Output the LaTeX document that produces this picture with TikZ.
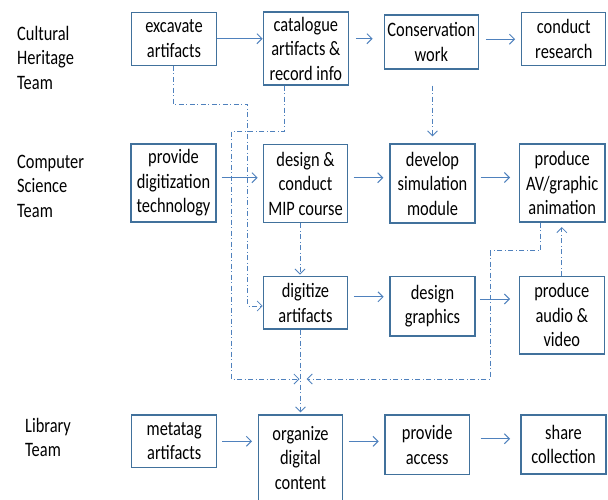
\documentclass[tikz,border=0pt]{standalone}
\usepackage{fontspec}
\setmainfont[FakeStretch=0.8]{Carlito}
\usetikzlibrary{arrows.meta,calc}

\definecolor{boxline}{HTML}{41719C}
\definecolor{flowline}{HTML}{4F81BD}

\tikzset{
  stage/.style={draw=boxline, line width=1.3pt, inner sep=0pt, align=center,
    text=black, font=\fontsize{20.5}{24.5}\selectfont},
  % anchored at the baseline of the last line
  team/.style={inner sep=0pt, align=left, anchor=base west, text=black,
    font=\fontsize{20.5}{24.5}\selectfont},
  flow/.style={draw=flowline, line width=1pt,
    -{Straight Barb[length=5pt,width=10pt]}},
  link/.style={draw=flowline, line width=0.8pt,
    dash pattern=on 5pt off 2.5pt on 1pt off 2.5pt,
    -{Straight Barb[length=5pt,width=10pt]}},
  linkplain/.style={draw=flowline, line width=0.8pt,
    dash pattern=on 5pt off 2.5pt on 1pt off 2.5pt}
}

\begin{document}
\begin{tikzpicture}[x=1pt,y=-1pt]
\useasboundingbox (0,0) rectangle (608,499);
\clip (0,0) rectangle (608,499);

% team labels
\node[team] (tch) at (17,89) {Cultural\\Heritage\\Team};
\node[team] (tcs) at (17,217.3) {Computer\\Science\\Team};
\node[team] (tlib) at (25,456.7) {Library\\Team};

% cultural heritage row
\node[stage, minimum width=85pt, minimum height=53pt] (exc) at (174,38.7) {excavate\\artifacts};
\node[stage, minimum width=85pt, minimum height=73pt] (cat) at (305.8,48.5) {catalogue\\artifacts \&\\record info};
\node[stage, minimum width=94pt, minimum height=54pt] (cons) at (431.3,42) {Conservation\\work};
\node[stage, minimum width=84pt, minimum height=53pt] (res) at (563.8,39.2) {conduct\\research};

% computer science rows
\node[stage, minimum width=85pt, minimum height=78pt] (tech) at (173.5,183) {provide\\digitization\\technology};
\node[stage, minimum width=84.4pt, minimum height=78.4pt] (mip) at (305.5,183.5) {design \&\\conduct\\MIP course};
\node[stage, minimum width=85pt, minimum height=79pt] (sim) at (432.5,183.5) {develop\\simulation\\module};
\node[stage, minimum width=85.7pt, minimum height=78pt] (av) at (562.2,183) {produce\\AV/graphic\\animation};
\node[stage, minimum width=84.4pt, minimum height=52.3pt] (digit) at (305.5,302.8) {digitize\\artifacts};
\node[stage, minimum width=85pt, minimum height=59.3pt] (graph) at (432.5,306.3) {design\\graphics};
\node[stage, minimum width=85pt, minimum height=77.3pt] (audio) at (561.8,315.3) {produce\\audio \&\\video};

% library row
\node[stage, minimum width=85pt, minimum height=52.7pt] (meta) at (174.2,441.3) {metatag\\artifacts};
\node[stage, minimum width=84.4pt, minimum height=86pt] (org) at (300.5,458) {organize\\digital\\content};
\node[stage, minimum width=84.3pt, minimum height=59.3pt] (acc) at (427.2,444.7) {provide\\access};
\node[stage, minimum width=85pt, minimum height=59pt] (share) at (563.5,444.5) {share\\collection};

% solid hand-offs within each team
\draw[flow] (exc.east) -- (exc.east -| cat.west);
\draw[flow, shorten <=7pt, shorten >=11pt] (cat.east |- exc.east) -- (cons.west |- exc.east);
\draw[flow, shorten <=7pt, shorten >=6pt] (cons.east |- res.west) -- (res.west);
\draw[flow, shorten <=5pt, shorten >=5pt] ([yshift=5.3pt]tech.east) -- ([yshift=5.3pt]tech.east -| mip.west);
\draw[flow, shorten <=5.3pt, shorten >=6pt] ([yshift=5.8pt]mip.east) -- ([yshift=5.8pt]mip.east -| sim.west);
\draw[flow, shorten <=5pt, shorten >=8.6pt] ([yshift=6pt]sim.east) -- ([yshift=6pt]sim.east -| av.west);
\draw[flow, shorten <=5.6pt, shorten >=5.7pt] ([yshift=6pt]digit.east) -- ([yshift=6pt]digit.east -| graph.west);
\draw[flow, shorten <=4.3pt, shorten >=8.6pt] ([yshift=7.3pt]graph.east) -- ([yshift=7.3pt]graph.east -| audio.west);
\draw[flow, shorten <=5pt, shorten >=5.6pt] (meta.east) -- (meta.east -| org.west);
\draw[flow, shorten <=5.6pt, shorten >=5.7pt] (org.east |- meta.east) -- (acc.west |- meta.east);
\draw[flow, shorten <=10.7pt, shorten >=10.3pt] ([yshift=6pt]acc.east) -- ([yshift=6pt]acc.east -| share.west);

% routing points for the dash-dot links
\coordinate (j1) at (247.7,104.3);
\coordinate (j2) at (231.7,131.5);
\coordinate (j3) at (490,250.7);
\coordinate (mrg) at (300,379);

% dash-dot links between teams
\draw[link] ([xshift=-0.7pt]exc.south) |- (j1) |- ([yshift=-3.2pt]digit.west);
\draw[linkplain] ([xshift=-21.5pt]cat.south) |- (j2);
\draw[link, shorten >=0.5pt] (j2) |- (mrg);
\draw[link, shorten >=1.5pt] ([xshift=-5.5pt]mip.south) -- ([xshift=-5.5pt]digit.north);
\draw[link, shorten <=16pt, shorten >=7pt] (cons.south -| sim.north) -- (sim.north);
\draw[linkplain] ([xshift=-22.2pt]av.south) |- (j3);
\draw[link, shorten >=6.7pt] (j3) |- (mrg);
\draw[link, shorten >=4.5pt] (audio.north) -- (audio.north |- av.south);
\draw[link, shorten >=2pt] (digit.south -| org.north) -- (org.north);
\end{tikzpicture}
\end{document}
